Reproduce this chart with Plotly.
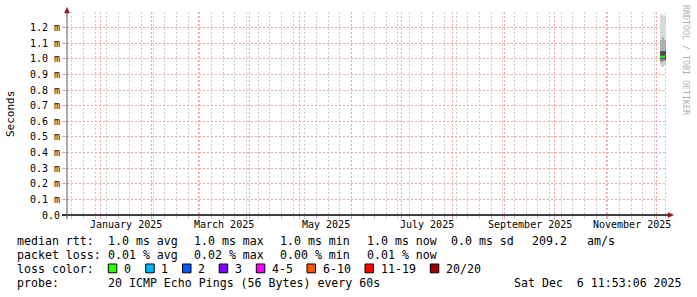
import plotly.graph_objects as go
from datetime import datetime, timedelta

# ---------------- data ----------------
x_range = ["2024-12-12 04:13", "2025-12-07 14:30"]

y_tickvals = [0.0, 0.0001, 0.0002, 0.0003, 0.0004, 0.0005, 0.0006,
              0.0007, 0.0008, 0.0009, 0.0010, 0.0011, 0.0012]
y_ticktext = ["0.0", "0.1 m", "0.2 m", "0.3 m", "0.4 m", "0.5 m", "0.6 m",
              "0.7 m", "0.8 m", "0.9 m", "1.0 m", "1.1 m", "1.2 m"]

month_label_dates = ["2025-01-16 12:00", "2025-03-16 12:00", "2025-05-16 12:00",
                     "2025-07-16 12:00", "2025-09-16 12:00", "2025-11-16 12:00"]
month_labels = ["January 2025", "March 2025", "May 2025",
                "July 2025", "September 2025", "November 2025"]

# consolidated samples (14.4 h steps) - start time of each step
sample_starts = ["2025-12-03 10:00", "2025-12-04 00:24", "2025-12-04 14:48",
                 "2025-12-05 05:12", "2025-12-05 19:36"]
step_hours = 14.4
ping_min = [0.96e-3, 0.95e-3, 0.95e-3, 0.96e-3, 0.96e-3]
ping_p10 = [0.99e-3, 0.98e-3, 0.985e-3, 0.99e-3, 0.99e-3]
ping_p25 = [1.00e-3, 1.00e-3, 1.00e-3, 1.00e-3, 1.00e-3]
median_rtt = [1.015e-3, 1.01e-3, 1.015e-3, 1.01e-3, 1.015e-3]
ping_p75 = [1.05e-3, 1.04e-3, 1.05e-3, 1.04e-3, 1.05e-3]
ping_p90 = [1.12e-3, 1.10e-3, 1.14e-3, 1.10e-3, 1.12e-3]
ping_max = [1.29e-3, 1.28e-3, 1.27e-3, 1.28e-3, 1.26e-3]
loss_count = [0, 0, 0, 0, 0]

loss_labels = ["0", "1", "2", "3", "4-5", "6-10", "11-19", "20/20"]
loss_colors = ["#26ff00", "#00b8ff", "#0059ff", "#7e00ff", "#ff00ff",
               "#ff5500", "#ff0000", "#a10000"]

stats_rtt = ["1.0 ms avg", "1.0 ms max", "1.0 ms min", "1.0 ms now", "0.0 ms sd", "209.2", "am/s"]
stats_loss = ["0.01 % avg", "0.02 % max", "0.00 % min", "0.01 % now"]
probe_text = "20 ICMP Echo Pings (56 Bytes) every 60s"
stamp_text = "Sat Dec  6 11:53:06 2025"

# ---------------- layout helpers ----------------
W, H = 697, 297
ML, MR, MT, MB = 67, 30, 12, 82
PW = W - ML - MR
PH = H - MT - MB
MONO = "DejaVu Sans Mono"


def px(x):
    return (x - ML) / PW


def py(y):
    return (H - MB - y) / PH


def loss_color(n):
    if n <= 0:
        return loss_colors[0]
    if n == 1:
        return loss_colors[1]
    if n == 2:
        return loss_colors[2]
    if n == 3:
        return loss_colors[3]
    if n <= 5:
        return loss_colors[4]
    if n <= 10:
        return loss_colors[5]
    if n <= 19:
        return loss_colors[6]
    return loss_colors[7]


starts = [datetime.strptime(s, "%Y-%m-%d %H:%M") for s in sample_starts]
step = timedelta(hours=step_hours)
centers = [s + step / 2 for s in starts]
width_ms = step_hours * 3600 * 1000

fig = go.Figure()

bands = [
    (ping_min, ping_p10, "#d0d0d0"),
    (ping_p90, ping_max, "#dadada"),
    (ping_p10, ping_p25, "#8a8a8a"),
    (ping_p75, ping_p90, "#b0b0b0"),
    (ping_p25, ping_p75, "#505050"),
]
for lo, hi, col in bands:
    fig.add_trace(go.Bar(
        x=centers, base=lo, y=[h - l for l, h in zip(lo, hi)],
        width=[width_ms] * len(centers), marker=dict(color=col, line=dict(width=0)),
        hoverinfo="skip", showlegend=False))

for s, m, n in zip(starts, median_rtt, loss_count):
    fig.add_trace(go.Scatter(
        x=[s, s + step], y=[m, m], mode="lines",
        line=dict(color=loss_color(n), width=2), hoverinfo="skip", showlegend=False))

major_grid = "#f2a2a2"
minor_grid = "#cacaca"
dash = "2px,2px"

fig.update_layout(
    width=W, height=H,
    margin=dict(l=ML, r=MR, t=MT, b=MB, pad=0),
    paper_bgcolor="white", plot_bgcolor="white",
    barmode="overlay", bargap=0,
    xaxis=dict(
        type="date", range=x_range,
        tick0="2025-01-01", dtick="M1",
        showticklabels=False,
        showgrid=True, gridcolor=major_grid, griddash=dash, gridwidth=1,
        ticks="outside", ticklen=3, tickcolor=major_grid,
        minor=dict(dtick=7 * 86400000, tick0="2024-12-29", showgrid=True,
                   gridcolor=minor_grid, griddash=dash, gridwidth=1,
                   ticks="outside", ticklen=3, tickcolor=minor_grid),
        zeroline=False, showline=False,
    ),
    yaxis=dict(
        range=[0, 0.0013], tickmode="array", tickvals=y_tickvals, ticktext=y_ticktext,
        showgrid=True, gridcolor=major_grid, griddash=dash, gridwidth=1,
        ticks="outside", ticklen=4, tickcolor=major_grid,
        zeroline=False, showline=False,
        tickfont=dict(family=MONO, size=10, color="#000000"),
    ),
    showlegend=False,
)

shapes = []
axis_col = "#000000"
arrow_col = "#8b1a1a"
# x axis line and arrow
shapes.append(dict(type="line", xref="paper", yref="paper", x0=px(62), x1=px(669),
                   y0=py(215), y1=py(215), line=dict(color=axis_col, width=1.5), layer="above"))
shapes.append(dict(type="path", xref="paper", yref="paper",
                   path=f"M {px(668)} {py(212.5)} L {px(673.5)} {py(215)} L {px(668)} {py(217.5)} Z",
                   fillcolor=arrow_col, line=dict(color=arrow_col, width=0.5), layer="above"))
# y axis line and arrow
shapes.append(dict(type="line", xref="paper", yref="paper", x0=px(67), x1=px(67),
                   y0=py(219), y1=py(12), line=dict(color="#555555", width=1), layer="above"))
shapes.append(dict(type="path", xref="paper", yref="paper",
                   path=f"M {px(64.5)} {py(13)} L {px(67)} {py(7.5)} L {px(69.5)} {py(13)} Z",
                   fillcolor=arrow_col, line=dict(color=arrow_col, width=0.5), layer="above"))

annotations = []


def txt(x, y, s, size=11.6, color="#000000", anchor="left", angle=0):
    annotations.append(dict(x=px(x), y=py(y), xref="paper", yref="paper", text=s,
                            showarrow=False, xanchor=anchor, yanchor="middle",
                            textangle=angle, borderpad=0,
                            font=dict(family=MONO, size=size, color=color)))


# month labels on the x scale
for d, lab in zip(month_label_dates, month_labels):
    annotations.append(dict(x=d, y=py(224.5), xref="x", yref="paper", text=lab,
                            showarrow=False, xanchor="center", yanchor="middle", borderpad=0,
                            font=dict(family=MONO, size=10, color="#000000")))

txt(10, 114, "Seconds", size=11, anchor="center", angle=-90)
txt(686, 60, "RRDTOOL / TOBI OETIKER", size=8.3, color="#b0b0b0", anchor="center", angle=90)

row_y = [241, 255, 269, 283]
col_x = [107.3, 193.3, 279.3, 366, 450, 530.7, 586]

txt(16, row_y[0], "median rtt:")
for x, s in zip(col_x, stats_rtt):
    txt(x, row_y[0], s)

txt(16, row_y[1], "packet loss:")
for x, s in zip(col_x, stats_loss):
    txt(x, row_y[1], s)

txt(16, row_y[2], "loss color:")
box_x = [108.3, 145.7, 182.5, 219.2, 256.3, 307, 365, 430.3]
for bx, lab, col in zip(box_x, loss_labels, loss_colors):
    shapes.append(dict(type="rect", xref="paper", yref="paper",
                       x0=px(bx), x1=px(bx + 8.5), y0=py(264), y1=py(272.8),
                       fillcolor=col, line=dict(color="#000000", width=1), layer="above"))
    txt(bx + 14.5, row_y[2], lab)

txt(16, row_y[3], "probe:")
txt(107.3, row_y[3], probe_text)
txt(513.3, row_y[3], stamp_text)

fig.update_layout(shapes=shapes, annotations=annotations)

fig.write_html("out.html")
